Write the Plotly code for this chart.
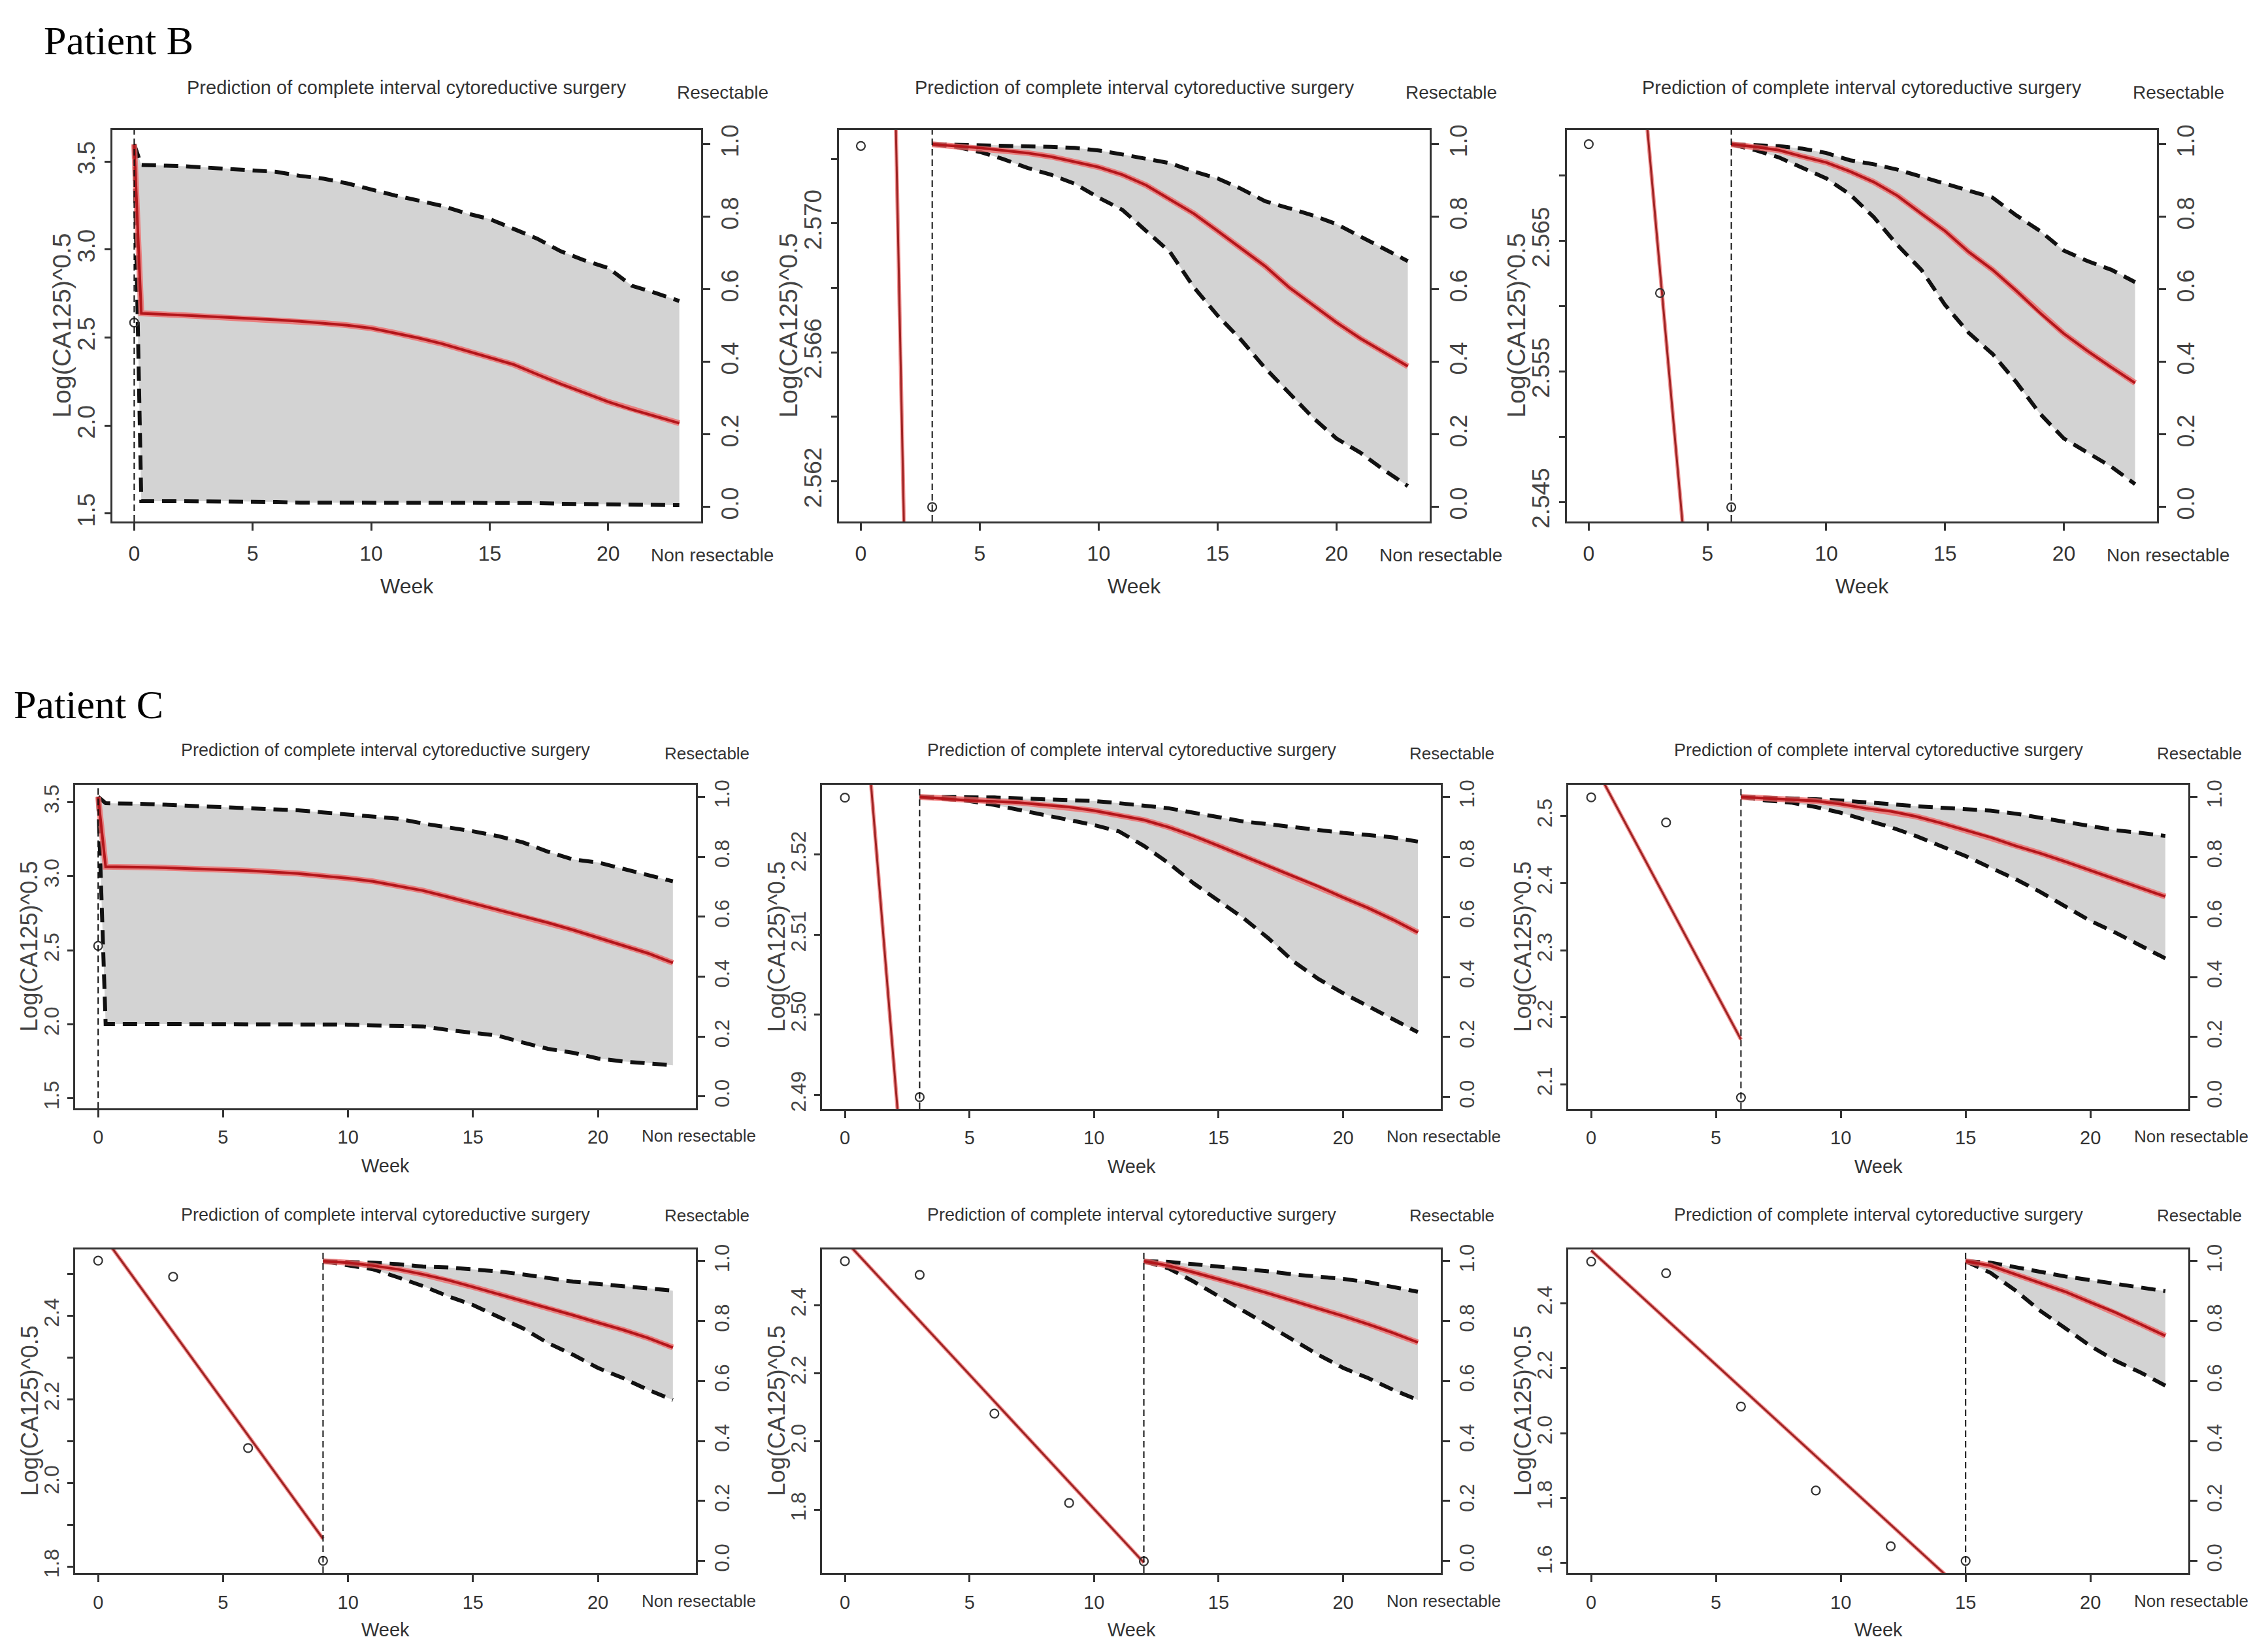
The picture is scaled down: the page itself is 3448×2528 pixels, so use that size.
import plotly.graph_objects as go

W, H = 3448, 2528

# ------------------------------------------------------------------ data
# Patient B, panel 1
B1_t0 = 0
B1_obs_week = [0]
B1_obs_val = [2.585]
B1_fit_week = []
B1_fit_val = []
B1_week = [0, 0.3, 2, 4, 6, 7, 8, 9, 10, 11, 12, 13, 14, 15, 16, 17, 18, 19, 20, 21, 22, 23]
B1_mean = [1.0, 0.534, 0.529, 0.523, 0.516, 0.512, 0.507, 0.501, 0.493, 0.480, 0.466, 0.450, 0.431, 0.413, 0.393, 0.366, 0.339, 0.315, 0.290, 0.269, 0.250, 0.231]
B1_up = [1.0, 0.943, 0.940, 0.933, 0.924, 0.913, 0.905, 0.892, 0.875, 0.859, 0.845, 0.830, 0.810, 0.794, 0.767, 0.740, 0.705, 0.680, 0.659, 0.610, 0.590, 0.568]
B1_low = [1.0, 0.016, 0.016, 0.016, 0.014, 0.012, 0.012, 0.012, 0.012, 0.012, 0.012, 0.012, 0.012, 0.012, 0.012, 0.011, 0.009, 0.008, 0.008, 0.007, 0.006, 0.005]
B1_yrange = [1.455, 3.68]
B1_ytickvals = [1.5, 2.0, 2.5, 3.0, 3.5]
B1_yticktext = ["1.5", "2.0", "2.5", "3.0", "3.5"]

# Patient B, panel 2
B2_t0 = 3
B2_obs_week = [0, 3]
B2_obs_val = [2.5724, 2.5612]
B2_fit_week = [0, 3]
B2_fit_val = [2.6264, 2.5175]
B2_week = [3, 4, 5, 6, 7, 8, 9, 10, 11, 12, 13, 14, 15, 16, 17, 18, 19, 20, 21, 22, 23]
B2_mean = [1.0, 0.995, 0.990, 0.983, 0.976, 0.966, 0.952, 0.937, 0.916, 0.887, 0.848, 0.809, 0.761, 0.712, 0.664, 0.606, 0.557, 0.509, 0.465, 0.426, 0.388]
B2_up = [1.0, 0.999, 0.998, 0.997, 0.996, 0.993, 0.990, 0.983, 0.972, 0.959, 0.948, 0.925, 0.906, 0.877, 0.843, 0.824, 0.804, 0.780, 0.746, 0.712, 0.678]
B2_low = [1.0, 0.993, 0.979, 0.959, 0.935, 0.916, 0.891, 0.853, 0.819, 0.761, 0.703, 0.606, 0.528, 0.460, 0.383, 0.315, 0.247, 0.189, 0.150, 0.102, 0.058]
B2_yrange = [2.56075, 2.5729]
B2_ytickvals = [2.562, 2.564, 2.566, 2.568, 2.570, 2.572]
B2_yticktext = ["2.562", "", "2.566", "", "2.570", ""]

# Patient B, panel 3
B3_t0 = 6
B3_obs_week = [0, 3, 6]
B3_obs_val = [2.5724, 2.5610, 2.5446]
B3_fit_week = [0, 6]
B3_fit_val = [2.6239, 2.5015]
B3_week = [6, 7, 8, 9, 10, 11, 12, 13, 14, 15, 16, 17, 18, 19, 20, 21, 22, 23]
B3_mean = [1.0, 0.993, 0.984, 0.966, 0.950, 0.925, 0.896, 0.858, 0.809, 0.761, 0.703, 0.654, 0.596, 0.535, 0.478, 0.430, 0.385, 0.342]
B3_up = [1.0, 0.998, 0.995, 0.988, 0.976, 0.956, 0.945, 0.930, 0.911, 0.891, 0.872, 0.853, 0.804, 0.761, 0.707, 0.678, 0.654, 0.620]
B3_low = [1.0, 0.984, 0.964, 0.935, 0.906, 0.862, 0.799, 0.722, 0.654, 0.557, 0.480, 0.422, 0.344, 0.257, 0.189, 0.150, 0.111, 0.063]
B3_yrange = [2.5435, 2.5735]
B3_ytickvals = [2.545, 2.550, 2.555, 2.560, 2.565, 2.570]
B3_yticktext = ["2.545", "", "2.555", "", "2.565", ""]

# Patient C, panel 1
C1_t0 = 0
C1_obs_week = [0]
C1_obs_val = [2.53]
C1_fit_week = []
C1_fit_val = []
C1_week = [0, 0.3, 2, 4, 6, 8, 9, 10, 11, 12, 13, 14, 15, 16, 17, 18, 19, 20, 21, 22, 23]
C1_mean = [1.0, 0.767, 0.765, 0.760, 0.754, 0.744, 0.737, 0.728, 0.718, 0.702, 0.687, 0.666, 0.645, 0.624, 0.603, 0.580, 0.556, 0.530, 0.504, 0.478, 0.446]
C1_up = [1.0, 0.979, 0.976, 0.969, 0.961, 0.955, 0.948, 0.940, 0.934, 0.927, 0.911, 0.899, 0.885, 0.869, 0.848, 0.817, 0.791, 0.781, 0.760, 0.739, 0.718]
C1_low = [1.0, 0.242, 0.242, 0.242, 0.241, 0.240, 0.240, 0.240, 0.237, 0.236, 0.234, 0.222, 0.211, 0.203, 0.180, 0.159, 0.146, 0.127, 0.117, 0.112, 0.104]
C1_yrange = [1.432, 3.617]
C1_ytickvals = [1.5, 2.0, 2.5, 3.0, 3.5]
C1_yticktext = ["1.5", "2.0", "2.5", "3.0", "3.5"]

# Patient C, panel 2
C2_t0 = 3
C2_obs_week = [0, 3]
C2_obs_val = [2.5271, 2.4897]
C2_fit_week = [0, 3]
C2_fit_val = [2.5688, 2.4542]
C2_week = [3, 4, 5, 6, 7, 8, 9, 10, 11, 12, 13, 14, 15, 16, 17, 18, 19, 20, 21, 22, 23]
C2_mean = [1.0, 0.994, 0.988, 0.985, 0.981, 0.973, 0.966, 0.954, 0.938, 0.923, 0.899, 0.870, 0.837, 0.803, 0.769, 0.736, 0.702, 0.665, 0.630, 0.591, 0.548]
C2_up = [1.0, 1.0, 1.0, 0.998, 0.995, 0.992, 0.988, 0.986, 0.979, 0.971, 0.962, 0.947, 0.933, 0.918, 0.909, 0.899, 0.889, 0.880, 0.873, 0.865, 0.851]
C2_low = [1.0, 0.992, 0.986, 0.973, 0.957, 0.942, 0.923, 0.906, 0.885, 0.837, 0.779, 0.712, 0.654, 0.596, 0.529, 0.452, 0.394, 0.346, 0.303, 0.260, 0.216]
C2_yrange = [2.4882, 2.5287]
C2_ytickvals = [2.49, 2.50, 2.51, 2.52]
C2_yticktext = ["2.49", "2.50", "2.51", "2.52"]

# Patient C, panel 3
C3_t0 = 6
C3_obs_week = [0, 3, 6]
C3_obs_val = [2.528, 2.4905, 2.0806]
C3_fit_week = [0, 6]
C3_fit_val = [2.585, 2.167]
C3_week = [6, 7, 8, 9, 10, 11, 12, 13, 14, 15, 16, 17, 18, 19, 20, 21, 22, 23]
C3_mean = [1.0, 0.995, 0.990, 0.986, 0.976, 0.962, 0.952, 0.935, 0.913, 0.889, 0.865, 0.837, 0.812, 0.784, 0.755, 0.726, 0.697, 0.668]
C3_up = [1.0, 0.998, 0.995, 0.992, 0.988, 0.983, 0.976, 0.969, 0.963, 0.960, 0.954, 0.944, 0.931, 0.915, 0.904, 0.889, 0.880, 0.870]
C3_low = [1.0, 0.988, 0.981, 0.966, 0.947, 0.923, 0.899, 0.870, 0.837, 0.803, 0.764, 0.726, 0.683, 0.635, 0.587, 0.548, 0.505, 0.462]
C3_yrange = [2.0633, 2.5466]
C3_ytickvals = [2.1, 2.2, 2.3, 2.4, 2.5]
C3_yticktext = ["2.1", "2.2", "2.3", "2.4", "2.5"]

# Patient C, panel 4
C4_t0 = 9
C4_obs_week = [0, 3, 6, 9]
C4_obs_val = [2.5317, 2.4932, 2.0836, 1.814]
C4_fit_week = [0, 9]
C4_fit_val = [2.608, 1.8665]
C4_week = [9, 10, 11, 12, 13, 14, 15, 16, 17, 18, 19, 20, 21, 22, 23]
C4_mean = [1.0, 0.995, 0.985, 0.973, 0.956, 0.937, 0.914, 0.891, 0.868, 0.844, 0.820, 0.795, 0.771, 0.744, 0.712]
C4_up = [1.0, 0.998, 0.995, 0.990, 0.982, 0.979, 0.973, 0.966, 0.956, 0.943, 0.932, 0.924, 0.917, 0.910, 0.902]
C4_low = [1.0, 0.988, 0.973, 0.946, 0.917, 0.883, 0.854, 0.815, 0.776, 0.727, 0.688, 0.644, 0.610, 0.571, 0.537]
C4_yrange = [1.785, 2.559]
C4_ytickvals = [1.8, 1.9, 2.0, 2.1, 2.2, 2.3, 2.4, 2.5]
C4_yticktext = ["1.8", "", "2.0", "", "2.2", "", "2.4", ""]

# Patient C, panel 5
C5_t0 = 12
C5_obs_week = [0, 3, 6, 9, 12]
C5_obs_val = [2.529, 2.489, 2.082, 1.820, 1.649]
C5_fit_week = [0, 12]
C5_fit_val = [2.590, 1.645]
C5_week = [12, 13, 14, 15, 16, 17, 18, 19, 20, 21, 22, 23]
C5_mean = [1.0, 0.985, 0.963, 0.941, 0.917, 0.893, 0.868, 0.844, 0.817, 0.790, 0.761, 0.729]
C5_up = [1.0, 0.998, 0.990, 0.982, 0.976, 0.966, 0.956, 0.949, 0.941, 0.930, 0.914, 0.898]
C5_low = [1.0, 0.976, 0.932, 0.883, 0.834, 0.785, 0.737, 0.688, 0.644, 0.610, 0.571, 0.537]
C5_yrange = [1.615, 2.564]
C5_ytickvals = [1.8, 2.0, 2.2, 2.4]
C5_yticktext = ["1.8", "2.0", "2.2", "2.4"]

# Patient C, panel 6
C6_t0 = 15
C6_obs_week = [0, 3, 6, 9, 12, 15]
C6_obs_val = [2.529, 2.493, 2.082, 1.823, 1.651, 1.606]
C6_fit_week = [0, 15]
C6_fit_val = [2.563, 1.506]
C6_week = [15, 16, 17, 18, 19, 20, 21, 22, 23]
C6_mean = [1.0, 0.985, 0.956, 0.927, 0.898, 0.863, 0.829, 0.790, 0.751]
C6_up = [1.0, 0.995, 0.980, 0.963, 0.949, 0.937, 0.924, 0.912, 0.900]
C6_low = [1.0, 0.961, 0.902, 0.834, 0.776, 0.717, 0.668, 0.629, 0.585]
C6_yrange = [1.569, 2.567]
C6_ytickvals = [1.6, 1.8, 2.0, 2.2, 2.4]
C6_yticktext = ["1.6", "1.8", "2.0", "2.2", "2.4"]

# shared axes
x_range = [-0.92, 23.92]
x_tickvals = [0, 5, 10, 15, 20]
prob_range = [-0.04, 1.04]
prob_tickvals = [0.0, 0.2, 0.4, 0.6, 0.8, 1.0]
prob_ticktext = ["0.0", "0.2", "0.4", "0.6", "0.8", "1.0"]

title_text = "Prediction of complete interval cytoreductive surgery"
y_title = "Log(CA125)^0.5"
x_title = "Week"
top_label = "Resectable"
bottom_label = "Non resectable"
group_labels = ["Patient B", "Patient C"]

# ------------------------------------------------------------------ layout (pixel boxes)
panels = [
    ("B", (164, 184, 1065, 788), B1_t0, B1_obs_week, B1_obs_val, B1_fit_week, B1_fit_val, B1_week, B1_mean, B1_up, B1_low, B1_yrange, B1_ytickvals, B1_yticktext),
    ("B", (1276, 184, 2180, 788), B2_t0, B2_obs_week, B2_obs_val, B2_fit_week, B2_fit_val, B2_week, B2_mean, B2_up, B2_low, B2_yrange, B2_ytickvals, B2_yticktext),
    ("B", (2390, 184, 3293, 788), B3_t0, B3_obs_week, B3_obs_val, B3_fit_week, B3_fit_val, B3_week, B3_mean, B3_up, B3_low, B3_yrange, B3_ytickvals, B3_yticktext),
    ("C", (107, 1194, 1057, 1693), C1_t0, C1_obs_week, C1_obs_val, C1_fit_week, C1_fit_val, C1_week, C1_mean, C1_up, C1_low, C1_yrange, C1_ytickvals, C1_yticktext),
    ("C", (1250, 1194, 2197, 1694), C2_t0, C2_obs_week, C2_obs_val, C2_fit_week, C2_fit_val, C2_week, C2_mean, C2_up, C2_low, C2_yrange, C2_ytickvals, C2_yticktext),
    ("C", (2392, 1194, 3341, 1694), C3_t0, C3_obs_week, C3_obs_val, C3_fit_week, C3_fit_val, C3_week, C3_mean, C3_up, C3_low, C3_yrange, C3_ytickvals, C3_yticktext),
    ("D", (107, 1910, 1057, 2409), C4_t0, C4_obs_week, C4_obs_val, C4_fit_week, C4_fit_val, C4_week, C4_mean, C4_up, C4_low, C4_yrange, C4_ytickvals, C4_yticktext),
    ("D", (1250, 1910, 2197, 2409), C5_t0, C5_obs_week, C5_obs_val, C5_fit_week, C5_fit_val, C5_week, C5_mean, C5_up, C5_low, C5_yrange, C5_ytickvals, C5_yticktext),
    ("D", (2392, 1910, 3341, 2409), C6_t0, C6_obs_week, C6_obs_val, C6_fit_week, C6_fit_val, C6_week, C6_mean, C6_up, C6_low, C6_yrange, C6_ytickvals, C6_yticktext),
]

# per-row text offsets (pixels relative to the plot box) and font sizes
row_off = {
    "B": dict(title=-65, res_x=33, res_y=-58, non_x=17, non_y=52, week=100, standoff=8,
              f_title=29, f_side=28, f_xtick=32, f_week=32, f_ytick=37, f_ytitle=39, ytitle_x=-78),
    "C": dict(title=-53, res_x=17, res_y=-48, non_x=4, non_y=42, week=88, standoff=5,
              f_title=27, f_side=26, f_xtick=29, f_week=29, f_ytick=32, f_ytitle=36, ytitle_x=-70),
    "D": dict(title=-53, res_x=17, res_y=-52, non_x=4, non_y=43, week=88, standoff=6,
              f_title=27, f_side=26, f_xtick=29, f_week=29, f_ytick=32, f_ytitle=36, ytitle_x=-70),
}

SANS = "Liberation Sans, Arial, Helvetica, sans-serif"
SERIF = "Liberation Serif, Times New Roman, serif"
TXT = "#333333"
TICKTXT = "#444444"
AX = "#333333"


def px(x):
    return x / W


def py(y):
    return 1 - y / H


fig = go.Figure()
annotations = []
shapes = []
lay = {}

for i, (row, box, t0, ow, ov, fw, fv, wk, mean, up, low, yr, ytv, ytt) in enumerate(panels):
    k = i + 1
    xn = "x" if k == 1 else f"x{k}"
    yp = "y" if k == 1 else f"y{2 * k - 1}"   # probability axis (right, base)
    yv = f"y{2 * k}"                            # marker value axis (left, overlay)
    xkey = "xaxis" if k == 1 else f"xaxis{k}"
    ypkey = "yaxis" if k == 1 else f"yaxis{2 * k - 1}"
    yvkey = f"yaxis{2 * k}"
    L, T, R, B = box
    off = row_off[row]

    lay[xkey] = dict(domain=[px(L), px(R)], range=x_range, anchor=yp,
                     tickvals=x_tickvals, ticks="outside", ticklen=11, tickwidth=2.5,
                     tickcolor=AX, showline=True, linewidth=3, linecolor=AX, mirror=True,
                     showgrid=False, zeroline=False,
                     tickfont=dict(family=SANS, size=off["f_xtick"], color=TXT),
                     ticklabelstandoff=off["standoff"])
    lay[ypkey] = dict(domain=[py(B), py(T)], range=prob_range, anchor=xn, side="right",
                      tickvals=prob_tickvals, ticktext=prob_ticktext, tickangle=-90,
                      ticks="outside", ticklen=11, tickwidth=2.5, tickcolor=AX,
                      showline=True, linewidth=3, linecolor=AX, showgrid=False, zeroline=False,
                      tickfont=dict(family=SANS, size=off["f_ytick"] - 1, color=TICKTXT))
    lay[yvkey] = dict(domain=[py(B), py(T)], range=yr, anchor=xn, side="left", overlaying=yp,
                      tickvals=ytv, ticktext=ytt, tickangle=-90,
                      ticks="outside", ticklen=9, tickwidth=2.5, tickcolor=AX,
                      showline=True, linewidth=3, linecolor=AX, showgrid=False, zeroline=False,
                      tickfont=dict(family=SANS, size=off["f_ytick"], color=TICKTXT))

    # confidence band
    fig.add_trace(go.Scatter(x=list(wk) + list(wk)[::-1], y=list(up) + list(low)[::-1],
                             xaxis=xn, yaxis=yp, mode="lines", fill="toself",
                             fillcolor="#d3d3d3", line=dict(width=0), hoverinfo="skip",
                             showlegend=False))
    for band in (up, low):
        fig.add_trace(go.Scatter(x=wk, y=band, xaxis=xn, yaxis=yp, mode="lines",
                                 line=dict(color="#111111", width=6, dash="22px,12px"),
                                 showlegend=False))
    fig.add_trace(go.Scatter(x=wk, y=mean, xaxis=xn, yaxis=yp, mode="lines",
                             line=dict(color="rgba(240,100,100,0.75)", width=9),
                             showlegend=False))
    fig.add_trace(go.Scatter(x=wk, y=mean, xaxis=xn, yaxis=yp, mode="lines",
                             line=dict(color="#b3161b", width=4), showlegend=False))

    # longitudinal fit and observations
    if fw:
        fig.add_trace(go.Scatter(x=fw, y=fv, xaxis=xn, yaxis=yv, mode="lines",
                                 line=dict(color="rgba(240,110,110,0.7)", width=6),
                                 showlegend=False))
        fig.add_trace(go.Scatter(x=fw, y=fv, xaxis=xn, yaxis=yv, mode="lines",
                                 line=dict(color="#9e2323", width=3), showlegend=False))
    fig.add_trace(go.Scatter(x=ow, y=ov, xaxis=xn, yaxis=yv, mode="markers",
                             marker=dict(symbol="circle-open", size=13, color="#333333",
                                         line=dict(width=2.2, color="#333333")),
                             showlegend=False, cliponaxis=False))

    # last-measurement marker
    shapes.append(dict(type="line", xref=xn, yref=f"{yp} domain", x0=t0, x1=t0, y0=0, y1=1,
                       line=dict(color="#111111", width=2, dash="10px,6px")))

    cx = (L + R) / 2
    cy = (T + B) / 2
    annotations += [
        dict(text=title_text, x=px(cx), y=py(T + off["title"]), xref="paper", yref="paper",
             showarrow=False, xanchor="center", yanchor="middle",
             font=dict(family=SANS, size=off["f_title"], color=TXT)),
        dict(text=top_label, x=px(R + off["res_x"]), y=py(T + off["res_y"]), xref="paper",
             yref="paper", showarrow=False, xanchor="center", yanchor="middle",
             font=dict(family=SANS, size=off["f_side"], color=TXT)),
        dict(text=bottom_label, x=px(R + off["non_x"]), y=py(B + off["non_y"]), xref="paper",
             yref="paper", showarrow=False, xanchor="center", yanchor="middle",
             font=dict(family=SANS, size=off["f_side"], color=TXT)),
        dict(text=x_title, x=px(cx), y=py(B + off["week"]), xref="paper", yref="paper",
             showarrow=False, xanchor="center", yanchor="middle",
             font=dict(family=SANS, size=off["f_week"], color=TXT)),
        dict(text=y_title, x=px(L + off["ytitle_x"]), y=py(cy), xref="paper", yref="paper",
             showarrow=False, xanchor="center", yanchor="middle", textangle=-90,
             font=dict(family=SANS, size=off["f_ytitle"], color=TICKTXT)),
    ]

annotations += [
    dict(text=group_labels[0], x=px(57), y=py(46), xref="paper", yref="paper", showarrow=False,
         xanchor="left", yanchor="middle", font=dict(family=SERIF, size=62, color="#000000")),
    dict(text=group_labels[1], x=px(11), y=py(1070), xref="paper", yref="paper", showarrow=False,
         xanchor="left", yanchor="middle", font=dict(family=SERIF, size=62, color="#000000")),
]

fig.update_layout(width=W, height=H, margin=dict(l=0, r=0, t=0, b=0),
                  paper_bgcolor="white", plot_bgcolor="white", showlegend=False,
                  annotations=annotations, shapes=shapes, **lay)

fig.write_html("out.html")
